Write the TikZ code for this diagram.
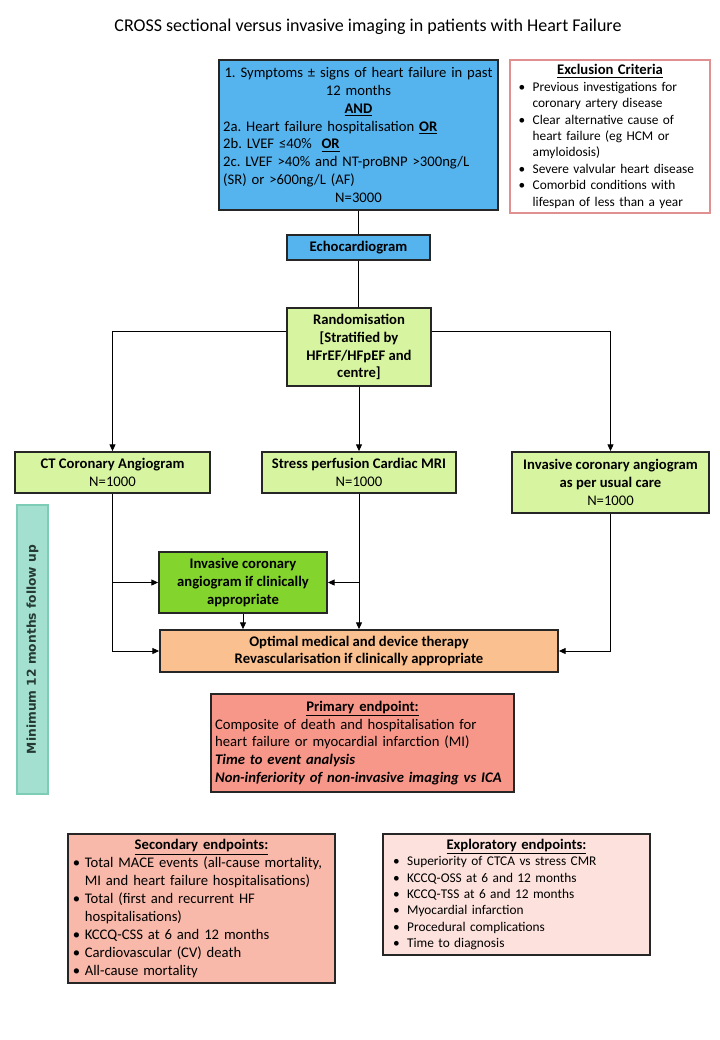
\documentclass[tikz,border=0pt]{standalone}
\usepackage{fontspec}
\setmainfont{Carlito}
\newfontfamily\fufont{DejaVu Sans}
\usetikzlibrary{arrows.meta}
\definecolor{cblue}{HTML}{55B3EE}
\definecolor{clgreen}{HTML}{D7F5A0}
\definecolor{cgreen}{HTML}{84D42E}
\definecolor{corange}{HTML}{FAC08F}
\definecolor{cprim}{HTML}{F7978A}
\definecolor{csec}{HTML}{F8B9AA}
\definecolor{cexpl}{HTML}{FCE1DC}
\definecolor{cteal}{HTML}{A4E0D0}
\definecolor{ctealb}{HTML}{7DCDB6}
\definecolor{cexclb}{HTML}{E09090}
\definecolor{cfu}{HTML}{243A33}
\frenchspacing
\newcommand{\elevenpt}{\fontsize{11}{13.4}\selectfont}
\newcommand{\tenpt}{\fontsize{10}{12.3}\selectfont}
\newcommand{\ubf}[1]{\textbf{\underline{#1}}}
\newcommand{\nl}{\hfil\break}
% #1 bullet offset, #2 hanging indent, #3 text
\newcommand{\bitem}[3]{\par\noindent\hangindent=#2\hangafter=1\makebox[#2][l]{\hspace{#1}•}#3}
\tikzset{
  box/.style={draw=black!85, line width=1.4pt, inner ysep=2pt, align=center, font=\elevenpt},
  arr/.style={-{Triangle[length=5pt,width=4.5pt]}, line width=0.6pt},
  ln/.style={line width=0.6pt},
}
\begin{document}
\begin{tikzpicture}[x=0.75pt,y=-0.75pt]
\useasboundingbox[fill=white] (0,0) rectangle (720,1040);

\node[font=\fontsize{13.5}{16}\selectfont] (title) at (368,27) {CROSS sectional versus invasive imaging in patients with Heart Failure};

\node[box, fill=cblue, minimum width=209.25pt, minimum height=112.5pt, text width=203pt, inner xsep=3pt, align=left] (top) at (358.5,135) {%
{\centering 1. Symptoms ± signs of heart failure in past\\ 12 months\\ \ubf{AND}\par}
2a. Heart failure hospitalisation \ubf{OR}\\
2b. LVEF ≤40\% \ \ubf{OR}\\
2c. LVEF >40\% and NT-proBNP >300ng/L\\
(SR) or >600ng/L (AF)\par
{\centering N=3000\par}};

\node[draw=cexclb, line width=0.8pt, fill=white, minimum width=150pt, minimum height=114.75pt, text width=144pt, inner xsep=3pt, align=left, font=\tenpt] (excl) at (610,136.5) {%
{\centering\fontsize{11}{13.4}\selectfont\ubf{Exclusion Criteria}\par}
\bitem{3.5pt}{14pt}{Previous investigations for\nl coronary artery disease}
\bitem{3.5pt}{14pt}{Clear alternative cause of\nl heart failure (eg HCM or\nl amyloidosis)}
\bitem{3.5pt}{14pt}{Severe  valvular heart disease}
\bitem{3.5pt}{14pt}{Comorbid conditions with\nl lifespan of less than a year}\par};

\node[box, fill=cblue, minimum width=107.25pt, minimum height=18.75pt, font=\elevenpt\bfseries] (echo) at (358.5,247.5) {Echocardiogram};

\node[box, fill=clgreen, minimum width=108pt, minimum height=58.5pt, font=\elevenpt\bfseries] (rand) at (359,347) {Randomisation\\ {[}Stratified by\\ HFrEF/HFpEF and\\ centre{]}};

\node[box, fill=clgreen, minimum width=146.25pt, minimum height=30.75pt] (ct) at (112.5,472.5) {\textbf{CT Coronary Angiogram}\\ N=1000};
\node[box, fill=clgreen, minimum width=145.5pt, minimum height=30.75pt] (stress) at (359,472.5) {\textbf{Stress perfusion Cardiac MRI}\\ N=1000};
\node[box, fill=clgreen, minimum width=147.75pt, minimum height=45.75pt] (usual) at (610.5,482.5) {\textbf{Invasive coronary angiogram}\\ \textbf{as per usual care}\\ N=1000};

\node[draw=ctealb, line width=1pt, fill=cteal, rotate=90, minimum width=216.75pt, minimum height=23.25pt, inner sep=0pt, font=\fufont\fontsize{9.2}{10}\selectfont\bfseries, text=cfu] (fu) at (32.5,649.5) {Minimum 12 months follow up};

\node[box, fill=cgreen, minimum width=126pt, minimum height=45.75pt, font=\elevenpt\bfseries] (ica) at (243,582.5) {Invasive coronary\\ angiogram if clinically\\ appropriate};

\node[box, fill=corange, minimum width=298.5pt, minimum height=31.5pt, font=\elevenpt\bfseries] (omt) at (359,651) {Optimal medical and device therapy\\ Revascularisation if clinically appropriate};

\node[box, fill=cprim, minimum width=227.25pt, minimum height=73.5pt, text width=221pt, inner xsep=3pt, align=left] (prim) at (362.5,743) {%
{\centering\ubf{Primary endpoint:}\par}
Composite of death and hospitalisation for\\
heart failure or myocardial infarction (MI)\\
\textbf{\textit{Time to event analysis}}\\
\textbf{\textit{Non-inferiority of non-invasive imaging vs ICA}}\par};

\node[box, fill=csec, minimum width=200.25pt, minimum height=111.75pt, text width=196pt, inner xsep=2pt, align=left] (sec) at (201.5,908.5) {%
{\centering\ubf{Secondary endpoints:}\par}
\bitem{1.5pt}{10.5pt}{Total MACE events (all-cause mortality,\nl MI and heart failure hospitalisations)}
\bitem{1.5pt}{10.5pt}{Total (first and recurrent HF\nl hospitalisations)}
\bitem{1.5pt}{10.5pt}{KCCQ-CSS at 6 and 12 months}
\bitem{1.5pt}{10.5pt}{Cardiovascular (CV) death}
\bitem{1.5pt}{10.5pt}{All-cause mortality}\par};

\node[box, fill=cexpl, minimum width=200.25pt, minimum height=90.75pt, text width=192pt, inner xsep=4pt, align=left, font=\tenpt] (expl) at (516.5,894.5) {%
{\centering\fontsize{11}{13.4}\selectfont\ubf{Exploratory endpoints:}\par}
\bitem{3.5pt}{14pt}{Superiority of CTCA vs stress CMR}
\bitem{3.5pt}{14pt}{KCCQ-OSS at 6 and 12 months}
\bitem{3.5pt}{14pt}{KCCQ-TSS at 6 and 12 months}
\bitem{3.5pt}{14pt}{Myocardial infarction}
\bitem{3.5pt}{14pt}{Procedural complications}
\bitem{3.5pt}{14pt}{Time to diagnosis}\par};

% connectors
\draw[ln] (top.south) -- (echo.north);
\draw[ln] (echo.south) -- (echo.south |- rand.north);
\draw[arr] ([yshift=12pt]rand.west) -| (ct.north);
\draw[arr] ([yshift=12pt]rand.east) -| (usual.north);
\draw[arr] (rand.south) -- (stress.north);
\draw[arr] (ct.south) |- (omt.west);
\draw[arr] (ct.south |- ica.west) -- (ica.west);
\draw[arr] (stress.south) -- (stress.south |- omt.north);
\draw[arr] (stress.south |- ica.east) -- (ica.east);
\draw[arr] (ica.south) -- (ica.south |- omt.north);
\draw[arr] (usual.south) |- (omt.east);
\end{tikzpicture}
\end{document}
